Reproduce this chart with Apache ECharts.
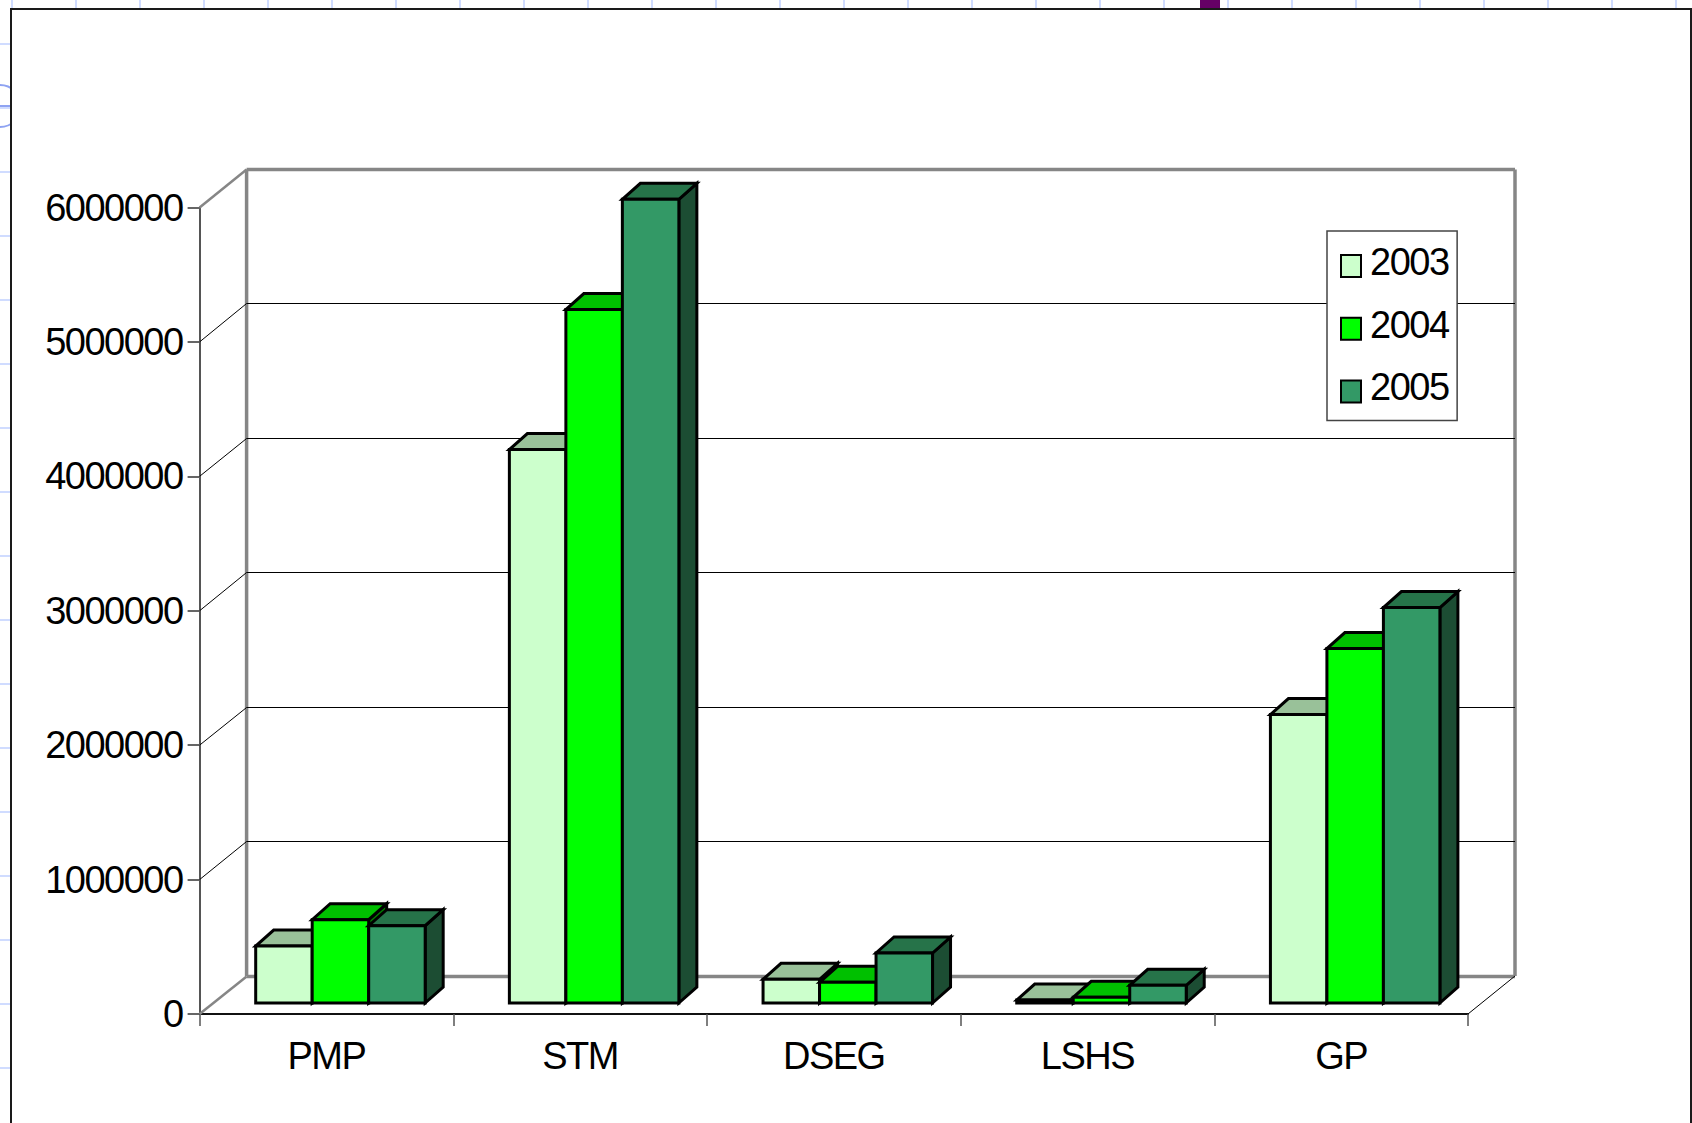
<!DOCTYPE html>
<html><head><meta charset="utf-8">
<style>
html,body{margin:0;padding:0;width:1692px;height:1123px;overflow:hidden;background-color:#fff;
background-image:linear-gradient(to right,#d0dcff 2px,transparent 2px),linear-gradient(to bottom,#d0dcff 2px,transparent 2px);
background-size:64px 64px;background-position:11px 0,0 43px;}
#frame{position:absolute;left:10px;top:8px;width:1678px;height:1130px;background:#fff;border:2px solid #1a1a1a;}
#mark{position:absolute;left:1200px;top:0;width:20px;height:8px;background:#660066;}
#circle{position:absolute;left:-22px;top:84px;width:40px;height:40px;border:2px solid #8fa3f2;border-radius:50%;}
#hline{position:absolute;left:0;top:105px;width:10px;height:2px;background:#8fa3f2;}
#chart{position:absolute;left:0;top:0;width:1692px;height:1123px;}
#chart text{letter-spacing:-1.5px;}
</style></head><body>
<div id="circle"></div><div id="hline"></div><div id="frame"></div><div id="mark"></div>
<div id="chart"></div>
<script src="https://cdn.jsdelivr.net/npm/echarts@6/dist/echarts.min.js"></script>
<script>
const categories = ['PMP','STM','DSEG','LSHS','GP'];
const years = ['2003','2004','2005'];
const values2003 = [424000,4117000,176000,22000,2146000];
const values2004 = [620000,5159000,154000,42000,2637000];
const values2005 = [575000,5979000,372000,132000,2942000];
const yTicks = [0,1000000,2000000,3000000,4000000,5000000,6000000];
const seriesValues = [values2003,values2004,values2005];
const frontColors = ['#CCFFCC','#00FF00','#339966'];
const topColors = ['#99C199','#00C000','#267349'];
const sideColors = ['#669966','#008000','#1C4D33'];

const WALL_DX = 47, WALL_DY = 38;       // depth of the box
const BAR_DX = 14, BAR_DY = 11;         // front face inset into the box
const DEPTH_DX = 18, DEPTH_DY = 16;     // depth of one bar
const BAR_RATIO = 0.2227;

function wallItem(params, api){
  const v = api.value(0);
  const band = api.size([1,0])[0];
  const p = api.coord([0,v]);
  const xl = p[0]-band/2, xr = xl+band*categories.length, y = p[1];
  const edge = v===0 || v===yTicks[yTicks.length-1];
  const gray = {stroke:'#868686',lineWidth:3.5,fill:null};
  const thin = {stroke:'#000',lineWidth:1,fill:null};
  const by = Math.floor(y-WALL_DY)+0.5;
  const kids = [
    {type:'line',shape:{x1:xl,y1:y,x2:xl+WALL_DX,y2:by},style:edge?{stroke:'#868686',lineWidth:2.5}:thin},
    {type:'line',shape:{x1:xl+WALL_DX,y1:by,x2:xr+WALL_DX,y2:by},style:edge?gray:thin}
  ];
  if(v===0){
    const top = api.coord([0,yTicks[yTicks.length-1]])[1];
    kids.push({type:'line',shape:{x1:xl+WALL_DX,y1:y-WALL_DY,x2:xl+WALL_DX,y2:top-WALL_DY},style:gray});
    kids.push({type:'line',shape:{x1:xr+WALL_DX,y1:y-WALL_DY,x2:xr+WALL_DX,y2:top-WALL_DY},style:gray});
    kids.push({type:'line',shape:{x1:xr,y1:y,x2:xr+WALL_DX,y2:y-WALL_DY},style:thin});
  }
  return {type:'group',children:kids};
}
const barItem = s => (params, api) => {
  const c = api.value(0), v = api.value(1);
  const band = api.size([1,0])[0];
  const w = band*BAR_RATIO;
  const x0 = api.coord([c,0])[0] + BAR_DX + (s-1.5)*w;
  const x1 = x0+w;
  const yb = api.coord([c,0])[1]-BAR_DY;
  const yt = yb-(api.coord([c,0])[1]-api.coord([c,v])[1]);
  const st = f => ({fill:f,stroke:'#000',lineWidth:3,lineJoin:'miter'});
  return {type:'group',children:[
    {type:'polygon',shape:{points:[[x1,yb],[x1+DEPTH_DX,yb-DEPTH_DY],[x1+DEPTH_DX,yt-DEPTH_DY],[x1,yt]]},style:st(sideColors[s])},
    {type:'polygon',shape:{points:[[x0,yt],[x1,yt],[x1+DEPTH_DX,yt-DEPTH_DY],[x0+DEPTH_DX,yt-DEPTH_DY]]},style:st(topColors[s])},
    {type:'rect',shape:{x:x0,y:yt,width:w,height:yb-yt},style:st(frontColors[s])}
  ]};
};
const font = 'Liberation Sans';
const chart = echarts.init(document.getElementById('chart'),null,{renderer:'svg',width:1692,height:1123});
chart.setOption({
  animation:false,
  backgroundColor:'transparent',
  grid:{left:199.6,top:207.5,width:1268.4,height:806.5},
  xAxis:{type:'category',data:categories,
    axisLine:{lineStyle:{color:'#111',width:2}},
    axisTick:{show:true,length:12,alignWithLabel:false,lineStyle:{color:'#555',width:1.5}},
    axisLabel:{color:'#000',fontFamily:font,fontSize:38,margin:23},
    splitLine:{show:false}},
  yAxis:{type:'value',min:0,max:6000000,interval:1000000,
    axisLine:{show:true,lineStyle:{color:'#555',width:2}},
    axisTick:{show:true,length:12,lineStyle:{color:'#666',width:2}},
    axisLabel:{color:'#000',fontFamily:font,fontSize:38,margin:17,formatter:v=>String(v)},
    splitLine:{show:false}},
  legend:{orient:'vertical',left:1327,top:231,padding:[12,2.6,6,13],
    backgroundColor:'#fff',borderColor:'#444',borderWidth:1.5,
    icon:'rect',itemWidth:20,itemHeight:22,itemGap:16.7,align:'left',
    formatter:'{t|{name}}',
    textStyle:{color:'#000',fontFamily:font,fontSize:38,
      rich:{t:{fontFamily:font,fontSize:38,color:'#000',lineHeight:63,padding:[0,0,8,4]}}},
    data:years,selectedMode:false,z:20},
  tooltip:{show:false},
  series:[
    {type:'custom',name:'wall',z:1,silent:true,clip:false,renderItem:wallItem,
      data:yTicks.map(v=>[v]),encode:{y:0}},
    ...years.map((y,s)=>({
      type:'custom',name:y,z:3+s,silent:true,clip:false,
      itemStyle:{color:frontColors[s],borderColor:'#000',borderWidth:3},
      renderItem:barItem(s),
      encode:{x:0,y:1},
      data:seriesValues[s].map((v,i)=>[i,v])
    }))
  ]
});
</script></body></html>
